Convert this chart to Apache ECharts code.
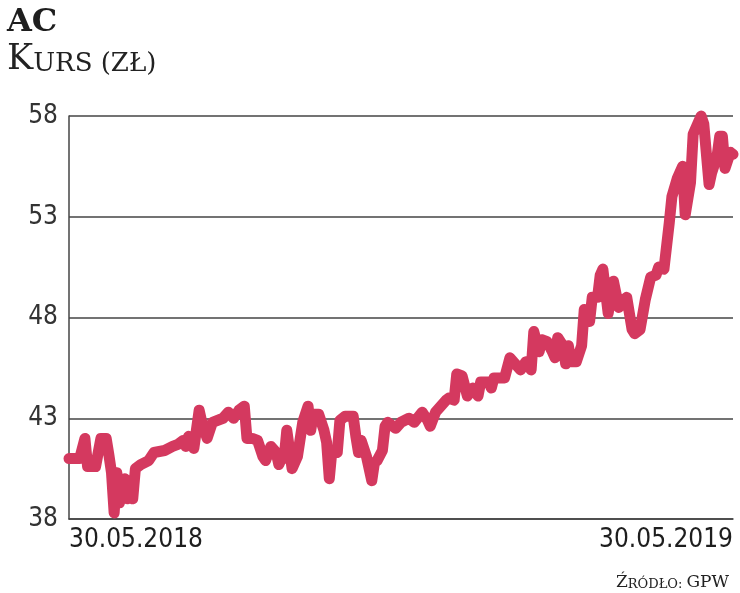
<!DOCTYPE html>
<html>
<head>
<meta charset="utf-8">
<script src="https://cdn.jsdelivr.net/npm/echarts@6/dist/echarts.min.js"></script>
<style>
html,body{margin:0;padding:0;background:#fff;}
#chart{width:740px;height:593px;}
</style>
</head>
<body>
<div id="chart"></div>
<script>
// Trading-session index (0 = 30.05.2018, 250 = 30.05.2019)
const sessions = [0,4,6,7,10,12,14,15,16,17,18,19,20,21,22,23,24,25,27,30,32,36,39,41,43,44,45,47,49,50,52,54,58,60,62,64,66,67,69,71,73,74,76,78,79,80,81,82,84,86,88,90,91,92,94,96,97,98,99,101,102,104,107,108,109,110,112,114,115,116,118,119,120,123,125,128,130,133,135,136,138,142,143,145,146,148,150,152,154,155,158,159,160,164,166,168,170,172,174,175,177,178,180,182,183,184,186,187,188,189,191,193,194,196,197,199,200,201,203,205,207,209,210,212,213,215,217,219,221,222,224,226,227,229,231,232,234,235,238,239,241,242,244,245,246,247,249,250];
// Closing price, PLN
const prices = [41.0,41.0,42.0,40.6,40.6,42.0,42.0,41.2,40.3,38.3,40.3,38.8,39.6,40.0,39.0,39.7,39.0,40.5,40.7,40.9,41.3,41.4,41.6,41.7,41.9,41.6,42.1,41.5,43.4,42.8,42.0,42.8,43.0,43.3,43.0,43.4,43.6,42.0,42.0,41.9,41.1,40.9,41.6,41.3,40.7,41.0,41.0,42.4,40.5,41.1,42.8,43.6,42.4,43.2,43.2,42.4,41.8,40.0,41.4,41.3,42.9,43.1,43.1,42.1,41.3,41.9,41.1,39.9,40.8,40.9,41.4,42.6,42.8,42.5,42.8,43.0,42.8,43.3,42.9,42.6,43.3,43.9,44.0,43.9,45.2,45.1,44.1,44.5,44.1,44.8,44.8,44.5,45.0,45.0,46.0,45.7,45.4,45.8,45.4,47.3,46.3,46.9,46.8,46.3,46.0,47.0,46.6,45.7,46.6,45.8,45.8,46.6,48.4,47.8,49.0,49.0,50.1,50.4,48.2,49.8,48.5,48.9,49.0,47.4,47.2,47.4,48.9,50.0,50.1,50.5,50.4,52.7,54.0,54.9,55.5,53.1,54.7,57.1,58.0,57.6,54.6,55.2,56.0,57.0,57.0,55.4,56.2,56.1];
const yTicks = [38,43,48,53,58];
const xTickLabels = ['30.05.2018','30.05.2019'];
const titleMain = 'AC';
const subtitleCap = 'K';
const subtitleRest = 'URS (ZŁ)';
const sourceCap = 'Ź';
const sourceRest = 'RÓDŁO:';
const sourceEnd = 'GPW';

const chart = echarts.init(document.getElementById('chart'), null, {renderer:'canvas'});
const serif = '"DejaVu Serif", "Liberation Serif", serif';
const narrow = '"DejaVu Sans Condensed", "DejaVu Sans", sans-serif';

chart.setOption({
  animation:false,
  backgroundColor:'#ffffff',
  title:[
    {text:titleMain,left:2,top:2,textStyle:{fontFamily:serif,fontWeight:'bold',fontSize:32,color:'#1e1e1e'}},
    {text:'{a|'+subtitleCap+'}{b|'+subtitleRest+'}',left:2,top:37,
      textStyle:{fontWeight:'normal',rich:{
        a:{fontFamily:serif,fontWeight:'normal',fontSize:35,color:'#222',verticalAlign:'bottom'},
        b:{fontFamily:serif,fontWeight:'normal',fontSize:26,color:'#222',verticalAlign:'bottom'}
      }}},
    {text:'{a|'+sourceCap+'}{b|'+sourceRest+' }{a|'+sourceEnd+'}',right:6,bottom:-3,
      textStyle:{fontWeight:'normal',rich:{
        a:{fontFamily:serif,fontWeight:'normal',fontSize:17,color:'#222',verticalAlign:'bottom'},
        b:{fontFamily:serif,fontWeight:'normal',fontSize:13,color:'#222',verticalAlign:'bottom'}
      }}}
  ],
  grid:{left:69,right:7,top:116,bottom:74,containLabel:false},
  xAxis:{
    type:'value',min:0,max:250,interval:250,
    axisLine:{show:true,lineStyle:{color:'#444',width:1.5}},
    axisTick:{show:false},
    splitLine:{show:false},
    axisLabel:{
      margin:8,fontFamily:narrow,fontSize:26,color:'#1e1e1e',
      alignMinLabel:'left',alignMaxLabel:'right',
      formatter:function(v){return v===0?xTickLabels[0]:(v===250?xTickLabels[1]:'');}
    }
  },
  yAxis:{
    type:'value',min:yTicks[0],max:yTicks[yTicks.length-1],interval:5,
    axisLine:{show:true,lineStyle:{color:'#444',width:1.5}},
    axisTick:{show:false},
    splitLine:{show:true,lineStyle:{color:'#444',width:1.5}},
    axisLabel:{margin:11,fontFamily:narrow,fontSize:26,color:'#333',verticalAlign:'middle'}
  },
  series:[{
    type:'line',
    data:sessions.map((s,i)=>[s,prices[i]]),
    showSymbol:false,symbol:'none',
    clip:false,
    lineStyle:{color:'#d4395f',width:11,join:'round',cap:'round'},
    z:3
  }]
});
</script>
</body>
</html>
